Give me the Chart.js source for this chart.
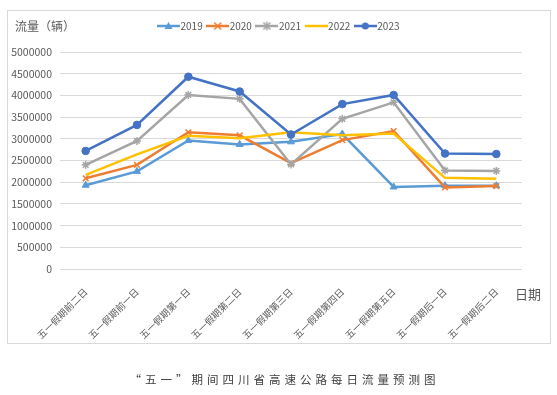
<!DOCTYPE html>
<html>
<head>
<meta charset="utf-8">
<script src="https://cdn.jsdelivr.net/npm/chart.js@4.4.0/dist/chart.umd.min.js"></script>
<style>
  html, body { margin: 0; padding: 0; background: #fff; }
  #wrap { position: relative; width: 557px; height: 395px; }
  #frame { position: absolute; left: 7px; top: 10px; width: 542px; height: 332px; border: 1px solid #d9d9d9; pointer-events: none; }
  #caption { position: absolute; left: 6px; width: 557px; top: 371px; text-align: center; font: 11.5px "Noto Sans CJK SC"; letter-spacing: 4px; color: #404040; }
</style>
</head>
<body>
<div id="wrap">
  <canvas id="chart" width="557" height="395"></canvas>
  <div id="frame"></div>
  <div id="caption">“五一”期间四川省高速公路每日流量预测图</div>
</div>
<script>
// categories and series (vehicles per day)
const days = ['五一假期前二日', '五一假期前一日', '五一假期第一日', '五一假期第二日', '五一假期第三日',
              '五一假期第四日', '五一假期第五日', '五一假期后一日', '五一假期后二日'];
const years = ['2019', '2020', '2021', '2022', '2023'];
const flow2019 = [1930000, 2250000, 2960000, 2870000, 2930000, 3110000, 1890000, 1920000, 1920000];
const flow2020 = [2090000, 2400000, 3150000, 3080000, 2440000, 2970000, 3180000, 1880000, 1910000];
const flow2021 = [2400000, 2950000, 4010000, 3920000, 2410000, 3460000, 3840000, 2270000, 2260000];
const flow2022 = [2170000, 2640000, 3070000, 3010000, 3150000, 3080000, 3120000, 2100000, 2080000];
const flow2023 = [2720000, 3320000, 4430000, 4090000, 3100000, 3800000, 4010000, 2660000, 2650000];
const yMax = 5000000;
const yStep = 500000;

const colors = ['#5B9BD5', '#ED7D31', '#A5A5A5', '#FFC000', '#4472C4'];
const markers = ['triangle', 'crossRot', 'star', false, 'circle'];
const series = [flow2019, flow2020, flow2021, flow2022, flow2023];

Chart.defaults.font.family = '"Noto Sans CJK SC", "Noto Sans", sans-serif';
Chart.defaults.color = '#595959';

// small line+marker images for the legend, like the spreadsheet legend
function legendIcon(color, marker) {
  const c = document.createElement('canvas');
  c.width = 23; c.height = 10;
  const g = c.getContext('2d');
  g.strokeStyle = color; g.fillStyle = color; g.lineWidth = 2.5;
  g.beginPath(); g.moveTo(0, 5); g.lineTo(23, 5); g.stroke();
  g.lineWidth = 1.5;
  const x = 11.5, y = 5;
  if (marker === 'circle') {
    g.beginPath(); g.arc(x, y, 3.5, 0, Math.PI * 2); g.fill();
  } else if (marker === 'triangle') {
    g.beginPath(); g.moveTo(x, y - 4); g.lineTo(x + 4, y + 3); g.lineTo(x - 4, y + 3); g.closePath(); g.fill();
  } else if (marker === 'crossRot' || marker === 'star') {
    g.beginPath();
    g.moveTo(x - 3.5, y - 3.5); g.lineTo(x + 3.5, y + 3.5);
    g.moveTo(x + 3.5, y - 3.5); g.lineTo(x - 3.5, y + 3.5);
    if (marker === 'star') { g.moveTo(x, y - 4.5); g.lineTo(x, y + 4.5); }
    g.stroke();
  }
  return c;
}
const icons = colors.map((c, i) => legendIcon(c, markers[i]));

const axisTitles = {
  id: 'axisTitles',
  afterDraw(chart) {
    const ctx = chart.ctx;
    ctx.save();
    ctx.fillStyle = '#595959';
    ctx.textBaseline = 'middle';
    ctx.font = '12px "Noto Sans CJK SC"';
    ctx.fillText('流量（辆）', 15, 26);
    ctx.font = '13px "Noto Sans CJK SC"';
    ctx.fillText('日期', 515, 294);
    ctx.restore();
  }
};

new Chart(document.getElementById('chart'), {
  type: 'line',
  data: {
    labels: days,
    datasets: years.map((y, i) => ({
      label: y,
      data: series[i],
      borderColor: colors[i],
      backgroundColor: colors[i],
      borderWidth: 2.5,
      tension: 0,
      pointStyle: markers[i] || 'circle',
      pointRadius: markers[i] ? (markers[i] === 'circle' ? 3.8 : 4) : 0,
      pointBorderWidth: markers[i] === 'circle' || markers[i] === 'triangle' ? 1 : 1.5,
      order: 5 - i
    }))
  },
  options: {
    responsive: false,
    animation: false,
    events: [],
    layout: { padding: { left: 4, right: 0, top: 13, bottom: 0 } },
    scales: {
      x: {
        offset: true,
        grid: { display: false },
        border: { display: false },
        ticks: { minRotation: 45, maxRotation: 45, padding: 9, font: { size: 9.5 } },
        afterFit(scale) { scale.height = 126; }
      },
      y: {
        min: 0,
        max: yMax,
        ticks: { stepSize: yStep, padding: 8, font: { size: 10.5 }, callback: (v) => String(v) },
        grid: { color: '#d9d9d9', drawTicks: false },
        border: { display: false },
        afterFit(scale) { scale.width = 56; }
      },
      // empty right-hand axis, only keeps room on the right of the plot
      yRight: {
        position: 'right',
        grid: { display: false },
        border: { display: false },
        ticks: { display: false },
        afterFit(scale) { scale.width = 35; }
      }
    },
    plugins: {
      legend: {
        position: 'top',
        labels: {
          usePointStyle: true,
          pointStyleWidth: 14,
          padding: 8,
          color: '#595959',
          font: { size: 10 },
          generateLabels: (chart) => chart.data.datasets.map((ds, i) => ({
            text: ds.label,
            pointStyle: icons[i],
            fillStyle: ds.borderColor,
            strokeStyle: ds.borderColor,
            lineWidth: 0,
            hidden: false,
            datasetIndex: i,
            fontColor: '#595959'
          }))
        }
      },
      // empty spacer between legend and plot
      subtitle: { display: true, text: '', weight: 500, font: { size: 11, lineHeight: 1 }, padding: 0 },
      tooltip: { enabled: false }
    }
  },
  plugins: [axisTitles]
});
</script>
</body>
</html>
